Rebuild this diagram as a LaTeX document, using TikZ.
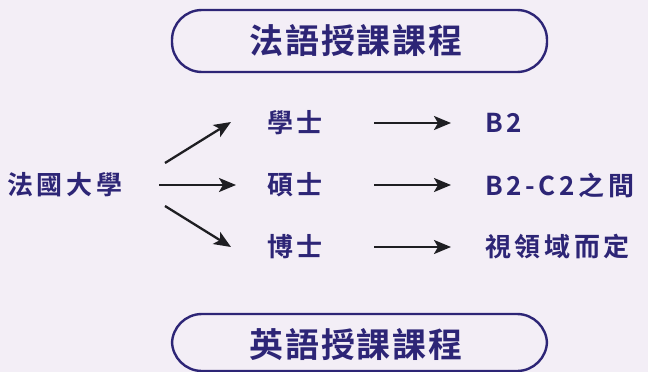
\documentclass[tikz,border=0pt]{standalone}
\usepackage{fontspec}
\usetikzlibrary{arrows.meta}
\newfontfamily\cjktitle[LetterSpace=5]{Noto Sans CJK TC Bold}
\newfontfamily\cjklabel[LetterSpace=14]{Noto Sans CJK TC Bold}
\definecolor{bgc}{HTML}{F3EEF6}
\definecolor{ink}{HTML}{2D2576}
\definecolor{arrc}{HTML}{1E1E22}
\tikzset{
  titlebox/.style={draw=ink, line width=2.4pt, rounded corners=30pt},
  titletext/.style={text=ink, font=\cjktitle\fontsize{34}{38}\selectfont, inner sep=0pt},
  lbl/.style={text=ink, font=\cjklabel\fontsize{26}{30}\selectfont, inner sep=0pt, anchor=west},
  arr/.style={draw=arrc, line width=2.3pt, -{Stealth[length=17pt,width=14pt,inset=4pt]}}
}
\begin{document}
\begin{tikzpicture}[x=1pt,y=-1pt]
\fill[bgc] (0,0) rectangle (648,372);
\useasboundingbox (0,0) rectangle (648,372);
% title boxes
\draw[titlebox] (172,10) rectangle (547,72);
\node[titletext] (t1) at (356,41) {法語授課課程};
\draw[titlebox] (172,314) rectangle (547,371);
\node[titletext] (t2) at (356,345) {英語授課課程};
% labels
\node[lbl] (uni) at (7,185) {法國大學};
\node[lbl] (ba) at (267,123) {學士};
\node[lbl] (ma) at (267,185) {碩士};
\node[lbl] (phd) at (267,247) {博士};
\node[lbl] (r1) at (485,123) {B2};
\node[lbl] (r2) at (485,185) {B2-C2之間};
\node[lbl] (r3) at (485,247) {視領域而定};
% arrow coordinates
\coordinate (s1) at (165,163); \coordinate (e1) at (231,122);
\coordinate (s2) at (159,185); \coordinate (e2) at (236,185);
\coordinate (s3) at (165,206); \coordinate (e3) at (231,247);
\coordinate (s4) at (374,123); \coordinate (e4) at (451,123);
\coordinate (s5) at (374,185); \coordinate (e5) at (451,185);
\coordinate (s6) at (374,247); \coordinate (e6) at (451,247);
\draw[arr] (s1) -- (e1);
\draw[arr] (s2) -- (e2);
\draw[arr] (s3) -- (e3);
\draw[arr] (s4) -- (e4);
\draw[arr] (s5) -- (e5);
\draw[arr] (s6) -- (e6);
\end{tikzpicture}
\end{document}
